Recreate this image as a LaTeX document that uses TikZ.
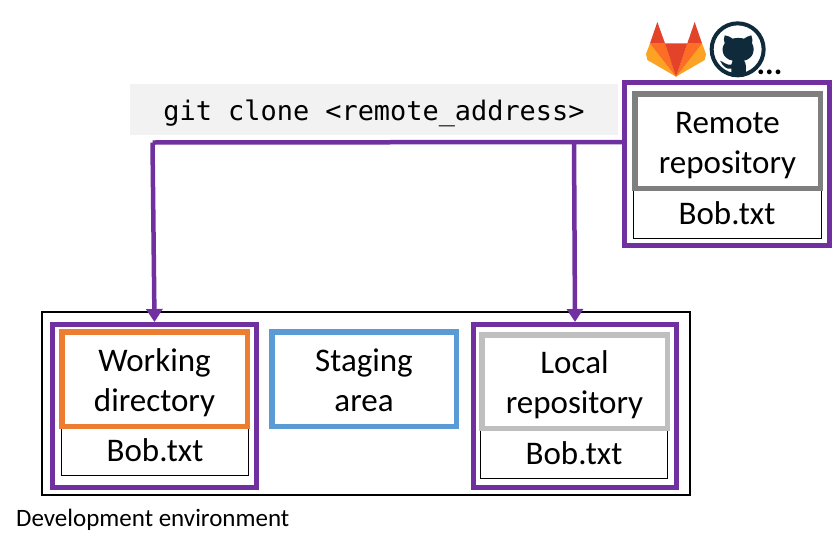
\documentclass[tikz,border=0pt]{standalone}
\usepackage{fontspec}
\setmainfont{Carlito}
\newfontfamily\codefont{DejaVu Sans Mono}
\usetikzlibrary{arrows.meta}
\definecolor{pur}{HTML}{7030A0}
\definecolor{org}{HTML}{ED7D31}
\definecolor{blu}{HTML}{5B9BD5}
\definecolor{gry}{HTML}{7F7F7F}
\definecolor{lgry}{HTML}{BFBFBF}
\definecolor{band}{HTML}{F2F2F2}
\definecolor{ghub}{HTML}{0F2A3B}
\newcommand{\twolines}[2]{\rule{0pt}{30pt}#1\\#2\rule[-5pt]{0pt}{5pt}}
\tikzset{
  x=1pt,y=-1pt,
  box/.style={draw,rectangle,inner sep=0pt,outer sep=0pt,align=center},
  framebox/.style={box,draw=pur,line width=5pt,outer sep=2.5pt},
  titlebox/.style={box,line width=5.5pt,font=\fontsize{33}{40}\selectfont},
  filebox/.style={box,draw=black,line width=1pt},
  filetxt/.style={font=\fontsize{33}{36}\selectfont,inner sep=0pt,anchor=base},
  link/.style={draw=pur,line width=4.5pt},
  arrowlink/.style={link,-{Triangle[length=13pt,width=16pt]}}
}
\begin{document}
\begin{tikzpicture}
\useasboundingbox (0,0) rectangle (832,549);
% command band
\node[box,draw=none,fill=band,minimum width=488pt,minimum height=51pt] (cmd) at (374,109.5) {};
\node[font=\codefont\fontsize{26.9}{30}\selectfont,inner sep=0pt,anchor=base] (cmdtxt) at (374,120) {git clone <remote\_address>};
% development environment
\node[box,draw=black,line width=2pt,minimum width=648pt,minimum height=183pt] (dev) at (366,403) {};
\node[font=\fontsize{25}{28}\selectfont,inner sep=0pt,anchor=base west] (devtxt) at (16,526) {Development environment};
% working directory
\node[framebox,minimum width=204pt,minimum height=163pt] (wdf) at (154.5,406) {};
\node[filebox,minimum width=187pt,minimum height=60pt] (wdfile) at (155,445.5) {};
\node[filetxt] (wdbob) at (155,461) {Bob.txt};
\node[titlebox,draw=org,fill=white,minimum width=185.5pt,minimum height=94.5pt] (wd) at (154.5,379) {\twolines{Working}{directory}};
% staging
\node[titlebox,draw=blu,minimum width=184.5pt,minimum height=94.5pt] (st) at (364,379) {\twolines{Staging}{area}};
% local
\node[framebox,minimum width=203pt,minimum height=163pt] (lrf) at (575,406) {};
\node[filebox,minimum width=187pt,minimum height=60pt] (lrfile) at (574,448) {};
\node[filetxt] (lrbob) at (574,464) {Bob.txt};
\node[titlebox,draw=lgry,fill=white,minimum width=185.5pt,minimum height=93.5pt] (lr) at (574.5,381.5) {\twolines{Local}{repository}};
% remote
\node[framebox,minimum width=205pt,minimum height=163pt] (rrf) at (727,164) {};
\node[filebox,minimum width=188pt,minimum height=60pt] (rrfile) at (727.5,208) {};
\node[filetxt] (rrbob) at (727,224) {Bob.txt};
\node[titlebox,draw=gry,fill=white,minimum width=185.5pt,minimum height=94.5pt] (rr) at (727.5,141) {\twolines{Remote}{repository}};
% connectors
\coordinate (start) at (rrf.west |- 0,142);
\coordinate (jl) at (152.5,142.5);
\coordinate (jr) at (574,142);
\draw[link] (start) -- (jl);
\draw[arrowlink] (jl) -- (wdf.north);
\draw[arrowlink] (jr) -- (lrf.north);
% gitlab logo
\begin{scope}[shift={(630,0)},x=0.3333pt,y=-0.3333pt]
  \fill[fill={rgb,255:red,252;green,163;blue,38}] (60,130) -- (48,162) -- (52,180) -- (138,230) -- (105,130) -- cycle;
  \fill[fill={rgb,255:red,252;green,163;blue,38}] (216,130) -- (228,162) -- (224,180) -- (138,230) -- (172,130) -- cycle;
  \fill[fill={rgb,255:red,252;green,109;blue,38}] (60,130) -- (105,130) -- (138,230) -- cycle;
  \fill[fill={rgb,255:red,252;green,109;blue,38}] (216,130) -- (172,130) -- (138,230) -- cycle;
  \fill[fill={rgb,255:red,226;green,67;blue,41}] (105,130) -- (172,130) -- (138,230) -- cycle;
  \fill[fill={rgb,255:red,226;green,67;blue,41}] (82,66) -- (105,130) -- (60,130) -- cycle;
  \fill[fill={rgb,255:red,226;green,67;blue,41}] (194,66) -- (216,130) -- (172,130) -- cycle;
\end{scope}
% github logo
\begin{scope}[shift={(630,0)},x=0.3333pt,y=-0.3333pt]
  \draw[ghub,line width=4pt] (323,148) circle[radius=78];
  \fill[ghub] (284,106) .. controls (296,108) and (302,112) .. (308,116)
    .. controls (318,113) and (332,113) .. (342,116)
    .. controls (348,112) and (356,107) .. (364,106)
    .. controls (368,118) and (368,124) .. (366,130)
    .. controls (376,146) and (372,176) .. (342,182)
    .. controls (348,188) and (348,196) .. (348,228)
    -- (304,228) -- (304,206)
    .. controls (288,208) and (280,200) .. (270,182)
    .. controls (282,186) and (288,196) .. (304,194)
    .. controls (304,190) and (304,186) .. (308,182)
    .. controls (276,176) and (272,146) .. (284,130)
    .. controls (281,122) and (281,116) .. (284,106) -- cycle;
\end{scope}
\node[font=\bfseries\fontsize{32}{32}\selectfont,inner sep=0pt,anchor=base] (more) at (769.5,74) {...};
\end{tikzpicture}
\end{document}
